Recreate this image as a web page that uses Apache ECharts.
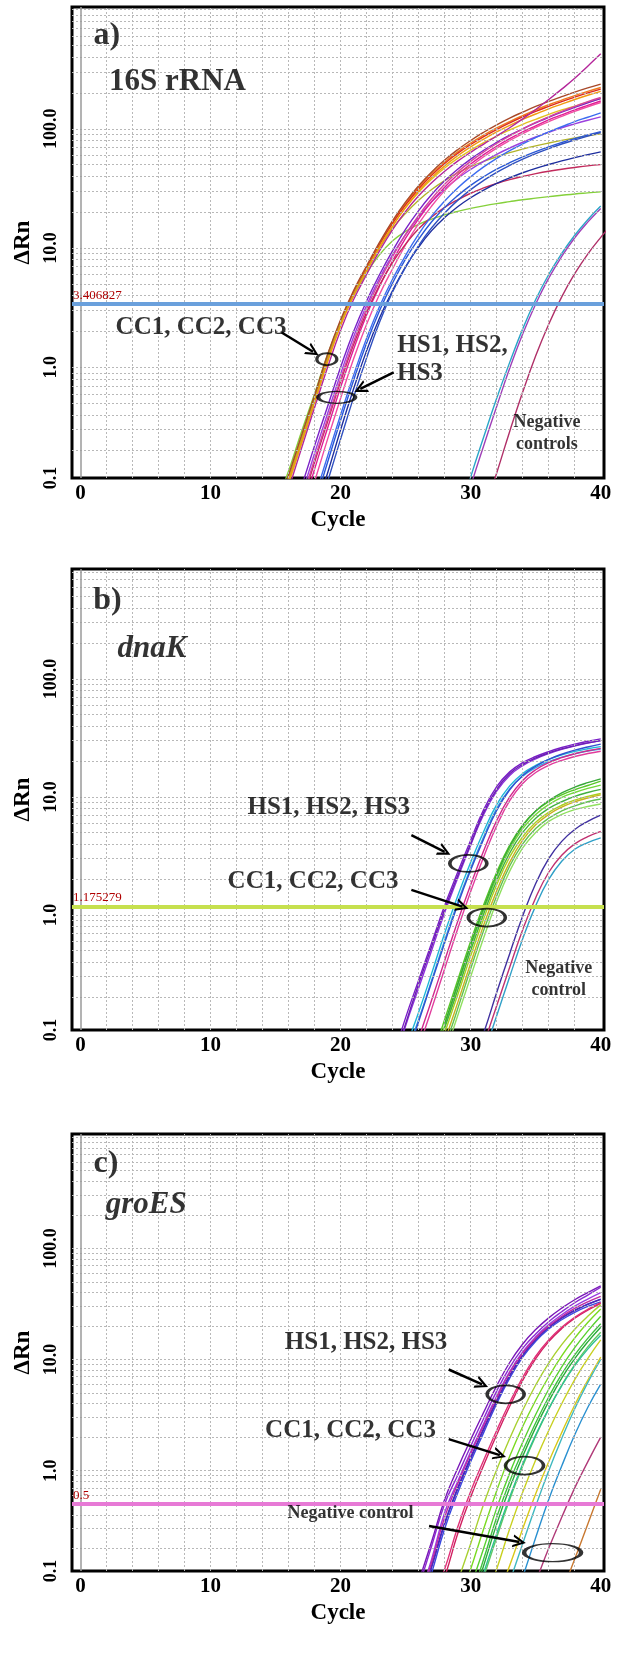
<!DOCTYPE html>
<html><head><meta charset="utf-8"><title>qPCR amplification plots</title>
<script src="https://cdn.jsdelivr.net/npm/echarts@6.0.0/dist/echarts.min.js"></script>
<style>html,body{margin:0;padding:0;background:#fff;}#chart{width:618px;height:1660px;}</style>
</head><body><div id="chart"></div>
<script>
// ---------------- data ----------------
const xTickValues = [0, 10, 20, 30, 40];
const yTickLabels = ['0.1', '1.0', '10.0', '100.0'];
const xGridCycles = [2,4,6,8,10,12,14,16,18,20,22,24,26,28,30,32,34,36,38];
const yGridValues = [0.2,0.3,0.4,0.5,0.6,0.7,0.8,0.9,1,2,3,4,5,6,7,8,9,10,20,30,40,50,60,70,80,90,100,200,300,400,500,600,700,800,900,1000];

const thresholdA = 3.406827;
const thresholdB = 1.175279;
const thresholdC = 0.5;

// Panel a) 16S rRNA : first cycle of each curve, then ΔRn per cycle
const aStarts = [15,15,15,15,15,15,16,16,17,17,17,18,17,18,18,18,19,17,29,29,31];
const aCurves = [
  [0.058,0.12,0.26,0.56,1.25,2.45,4.3,6.9,10.9,16.6,23.7,32.3,42.1,52.7,64.1,76,88.5,101.6,115,129,144,159,174,190,206,222],
  [0.052,0.11,0.24,0.53,1.18,2.35,4.15,6.7,10.6,16.1,23,31.3,40.8,51.2,62.2,73.8,85.9,98.6,112,126,140,154,169,184,200,215],
  [0.05,0.105,0.23,0.5,1.12,2.25,4.0,6.5,10.3,15.4,21.8,29.4,37.8,46.9,56.4,66.2,76.4,86.9,97.7,109,120,132,144,155,167,179],
  [0.07,0.135,0.29,0.6,1.28,2.4,4.0,6.2,8.8,11.5,13.8,15.8,17.5,19,20.3,21.5,22.6,23.6,24.5,25.4,26.2,27,27.7,28.4,29,29.6],
  [0.055,0.115,0.25,0.54,1.2,2.35,4.1,6.5,10.1,14.6,19.6,25.2,31,36.8,42.6,48.1,53.3,58.3,63.1,67.6,71.9,76,80,83.8,87.3,90.6],
  [0.06,0.125,0.27,0.58,1.28,2.5,4.4,7.1,11.2,17,24.4,33.3,43.5,54.7,66.8,79.8,93.5,108,123,138,154,170,186,203,220,237],
  [0.11,0.235,0.51,1.12,2.25,4.0,6.4,10.1,15.3,21.9,29.9,39,48.9,59.4,70.5,82,94.2,107,120,133,147,161,176,191,206],
  [0.095,0.21,0.46,1.0,2.05,3.7,6.0,9.5,14.3,20.3,27.4,35.3,44,53.5,63.5,74.5,87,102,121,145,176,215,265,335,425],
  [0.1,0.22,0.47,1.0,2.0,3.6,6.0,9.5,14.4,20.6,28.1,36.6,45.8,55.7,66.1,76.9,88.3,100,112,125,138,151,165,179],
  [0.085,0.19,0.41,0.88,1.8,3.3,5.6,8.8,13,18.3,24.4,31.1,38.3,45.7,53.3,61.1,69,77.1,85.3,93.5,102,110,118,126],
  [0.06,0.14,0.31,0.68,1.42,2.75,4.8,7.8,12.1,17.6,24.5,32.4,41.2,50.7,60.8,71.4,82.6,94.2,106,119,131,144,157,171],
  [0.11,0.25,0.55,1.18,2.3,4.1,6.7,10.7,16,22.5,30.3,38.9,48.3,58.3,68.9,79.8,91.2,103,115,127,140,153,166],
  [0.07,0.16,0.35,0.76,1.55,2.9,4.9,7.6,10.8,14.5,18.2,21.9,25.4,28.8,31.9,34.8,37.5,39.9,42.1,44.1,45.8,47.4,48.9,50.1],
  [0.07,0.16,0.36,0.78,1.6,3.0,5.1,8.1,11.9,16.6,21.9,27.5,33.5,39.6,45.8,52,58.2,64.4,70.6,76.7,82.8,88.7,94.6],
  [0.06,0.13,0.3,0.66,1.38,2.6,4.4,7,10.2,14,18,22.2,26.4,30.6,34.8,38.8,42.8,46.6,50.2,53.8,57.3,60.7,64],
  [0.08,0.18,0.4,0.86,1.75,3.25,5.5,8.7,13.1,18.5,24.8,31.9,39.6,47.9,56.5,65.5,74.8,84.5,94.4,104,115,125,136],
  [0.11,0.25,0.56,1.2,2.4,4.3,6.9,10.5,14.8,19.7,25.1,30.9,36.9,43.1,49.3,55.6,61.9,68.2,74.5,80.7,86.9,93.1],
  [0.075,0.17,0.37,0.8,1.65,3.1,5.3,8.5,13,18.8,25.9,34.2,43.4,53.3,64,75.3,87.3,99.8,113,126,140,154,169,183],
  [0.05,0.12,0.26,0.55,1.1,2.1,3.7,6.0,9.0,12.8,17.3,22.5],
  [0.04,0.1,0.22,0.47,0.98,1.9,3.4,5.6,8.5,12.2,16.5,21.5],
  [0.06,0.13,0.29,0.62,1.25,2.3,3.9,6.1,8.9,12.3,16.5]
];
const aColors = ['#ee7d1e','#dc2a1e','#e3c020','#84d03a','#b2b42a','#a84a2a','#f09a10','#b4269a','#7a22c6','#9c40de','#e01c96','#f04ca2','#c22a5c','#2a58d6','#1e2e9e','#3d6cf0','#3050c0','#d4449e','#2aa6c8','#a040b8','#b03068'];

// Panel b) dnaK
const bStarts = [24,24,25,25,26,26,25,24,27,27,28,28,28,28,28,28,30,31,31];
const bCurves = [
  [0.06,0.135,0.28,0.58,1.2,2.3,4.3,7.8,12.2,16.3,19.5,22,24.2,26.2,28,29.6,31],
  [0.05,0.115,0.24,0.5,1.05,2.05,3.9,7.1,11.2,15.2,18.4,21,23.3,25.3,27,28.6,30],
  [0.075,0.15,0.32,0.7,1.45,2.8,5.1,8.6,12.4,15.8,18.5,20.8,22.7,24.3,25.6,26.7],
  [0.065,0.13,0.28,0.61,1.28,2.5,4.6,8.0,11.7,15,17.7,19.9,21.7,23.2,24.5,25.5],
  [0.09,0.19,0.41,0.88,1.8,3.5,6.3,10,13.8,17,19.5,21.5,23.2,24.6,25.8],
  [0.075,0.16,0.35,0.76,1.58,3.1,5.7,9.3,13,16.1,18.5,20.4,22,23.3,24.4],
  [0.06,0.125,0.27,0.58,1.22,2.4,4.4,7.7,11.5,15.2,18.2,20.8,23,24.9,26.5,28],
  [0.052,0.12,0.26,0.54,1.12,2.15,4.0,7.4,11.6,15.7,18.9,21.4,23.6,25.5,27.2,28.7,30],
  [0.06,0.13,0.28,0.6,1.22,2.3,3.9,5.8,7.6,9.1,10.4,11.5,12.5,13.6],
  [0.055,0.115,0.25,0.54,1.1,2.1,3.6,5.4,7.1,8.6,9.9,10.9,11.8,12.6],
  [0.11,0.23,0.5,1.02,1.95,3.35,5.0,6.6,8.0,9.1,10.1,10.9,11.6],
  [0.1,0.21,0.45,0.93,1.8,3.1,4.6,6.1,7.4,8.5,9.4,10.1,10.7],
  [0.085,0.18,0.39,0.82,1.6,2.8,4.3,5.8,7.1,8.2,9.1,9.8,10.4],
  [0.075,0.16,0.35,0.74,1.45,2.6,4.0,5.4,6.6,7.6,8.4,9.1,9.6],
  [0.065,0.14,0.3,0.64,1.3,2.35,3.7,5.0,6.2,7.1,7.8,8.3,8.7],
  [0.12,0.26,0.56,1.15,2.2,3.8,5.7,7.6,9.3,10.8,12.1,13.2,14.2],
  [0.05,0.1,0.22,0.47,0.98,1.85,3.0,4.2,5.3,6.2,7.0],
  [0.08,0.17,0.36,0.75,1.4,2.3,3.2,4.0,4.6,5.1],
  [0.065,0.14,0.3,0.63,1.2,2.0,2.85,3.6,4.1,4.5]
];
const bColors = ['#7a1ec8','#8f30dc','#1eb6d8','#3aa6e0','#d0288c','#e03c9c','#3050d0','#6a20b0','#58c828','#70d838','#40b040','#a8d020','#c8b020','#60c050','#90e060','#38a838','#4030a0','#c03070','#30a0c8'];

// Panel c) groES
const cStarts = [26,26,26,26,26,27,27,26,26,30,30,30,29,29,30,30,32,31,32,33,34,37];
const cCurves = [
  [0.089,0.21,0.5,0.91,1.66,2.95,5.2,8.5,12.6,17,21.9,26.9,32.4,38,44.7],
  [0.07,0.16,0.42,0.8,1.48,2.65,4.7,7.8,11.7,16,20.6,25.3,30.2,35,40],
  [0.055,0.14,0.34,0.7,1.32,2.4,4.3,7.2,11,15.2,19.6,23.8,27.8,31.5,35],
  [0.05,0.12,0.3,0.63,1.2,2.2,4.0,6.8,10.5,14.6,18.8,22.8,26.6,30,33],
  [0.06,0.135,0.33,0.68,1.28,2.35,4.2,7.1,10.9,15.1,19.4,23.6,27.6,31.3,34.8],
  [0.055,0.11,0.27,0.58,1.12,2.1,3.8,6.5,10.2,14.5,19,23.5,27.8,32],
  [0.065,0.13,0.31,0.65,1.24,2.3,4.1,6.9,10.7,15,19.5,24,28.3,32.5],
  [0.065,0.15,0.38,0.76,1.42,2.55,4.5,7.6,11.4,15.6,20,24.4,28.8,33,37],
  [0.1,0.23,0.55,1.05,1.9,3.35,5.8,9.4,13.8,18.6,23.7,29,34.5,40,46],
  [0.07,0.16,0.38,0.8,1.5,2.7,4.6,7.4,11,15.5,21],
  [0.09,0.2,0.46,0.95,1.8,3.2,5.4,8.6,12.8,18,24.5],
  [0.06,0.14,0.33,0.7,1.35,2.45,4.2,6.8,10.2,14.4,19.5],
  [0.06,0.13,0.3,0.66,1.35,2.5,4.3,7.0,10.8,15.6,21.5,28.5],
  [0.1,0.22,0.5,1.02,1.95,3.5,5.9,9.3,13.6,18.7,24.5,31],
  [0.05,0.11,0.25,0.55,1.1,2.05,3.6,5.9,9.0,13,17.6],
  [0.05,0.12,0.27,0.58,1.15,2.1,3.6,5.8,8.8,12.4,16.5],
  [0.07,0.14,0.3,0.62,1.2,2.2,3.9,6.5,10.5],
  [0.06,0.13,0.3,0.64,1.25,2.3,4.0,6.6,10.2,15],
  [0.045,0.1,0.22,0.48,1.0,1.95,3.6,6.2,10],
  [0.05,0.11,0.25,0.55,1.1,2.1,3.7,6.0],
  [0.05,0.1,0.2,0.38,0.7,1.2,2.0],
  [0.08,0.16,0.33,0.68]
];
const cColors = ['#8a2ad0','#9a3ee0','#2030d0','#3a4ae0','#5028b8','#d02060','#e03078','#c02aa0','#7a18b8','#40c040','#58d030','#2aaa3a','#7ada20','#a8d030','#60c860','#30c090','#d8c818','#c8d020','#40b8c0','#2a90d0','#b03a78','#c87830'];

// annotations: [cycle, ΔRn, text]
const aTexts = [[2.02,600,'a)'],[7.46,245,'16S rRNA'],[9.27,2.16,'CC1, CC2, CC3'],[28.6,1.51,'HS1, HS2,'],[26.1,0.88,'HS3'],[35.86,0.28,'Negative\ncontrols']];
const bTexts = [[2.08,458,'b)'],[5.5,178,'dnaK'],[19.09,8.2,'HS1, HS2, HS3'],[17.88,1.91,'CC1, CC2, CC3'],[36.77,0.282,'Negative\ncontrol']];
const cTexts = [[1.96,575,'c)'],[5.05,245,'groES'],[21.96,14.1,'HS1, HS2, HS3'],[20.76,2.28,'CC1, CC2, CC3'],[20.76,0.41,'Negative control']];
// ellipses: [cycle, ΔRn]
const aRings = [[18.94,1.17],[19.7,0.56]];
const bRings = [[29.82,2.73],[31.24,0.95]];
const cRings = [[32.69,4.86],[34.14,1.11],[36.3,0.183]];
// arrows: [fromCycle, fromΔRn, toCycle, toΔRn]
const aArrows = [[15.47,1.96,17.88,1.35],[24.08,0.908,21.51,0.658]];
const bArrows = [[25.44,4.74,28.0,3.43],[25.44,1.63,29.37,1.175]];
const cArrows = [[28.31,8.13,30.88,5.97],[28.31,1.92,32.24,1.38],[26.8,0.317,33.75,0.228]];

// ---------------- layout / style ----------------
const FONT = '"Liberation Serif", "Times New Roman", serif';
const layout = [
  {top: 7,    height: 471, yMin: 0.118, yMax: 1050, thr: thresholdA, thrLabel: '3.406827', thrColor: '#6aa0dc',
   texts: aTexts, rings: aRings, ringSizes: [[20,12],[37,12]], arrows: aArrows,
   starts: aStarts, curves: aCurves, colors: aColors},
  {top: 569,  height: 461, yMin: 0.106, yMax: 853,  thr: thresholdB, thrLabel: '1.175279', thrColor: '#c6e04e',
   texts: bTexts, rings: bRings, ringSizes: [[37,17],[37,18]], arrows: bArrows,
   starts: bStarts, curves: bCurves, colors: bColors},
  {top: 1134, height: 437, yMin: 0.125, yMax: 1070, thr: thresholdC, thrLabel: '0.5', thrColor: '#e77ad6',
   texts: cTexts, rings: cRings, ringSizes: [[37,18],[38,18],[57,18]], arrows: cArrows,
   starts: cStarts, curves: cCurves, colors: cColors}
];
const textStyleFor = (t, k) => {
  if (k === 0) return {fontSize: 32};
  if (k === 1) return {fontSize: 31, fontStyle: (t === '16S rRNA') ? 'normal' : 'italic'};
  if (t.indexOf('Negative') === 0) return {fontSize: 18, lineHeight: 22};
  return {fontSize: 25};
};
const chevron = 'path://M0,10 L5,0 L10,10 L8.2,10 L5,3.6 L1.8,10 Z';

const grids = [], xAxes = [], yAxes = [], series = [];
layout.forEach((L, p) => {
  grids.push({left: 72, width: 532, top: L.top, height: L.height, show: true,
    borderColor: '#000', borderWidth: 3, backgroundColor: '#fff'});
  xAxes.push({gridIndex: p, type: 'value', min: -0.65, max: 40.25,
    axisLine: {show: false}, axisTick: {show: false}, splitLine: {show: false},
    axisLabel: {customValues: xTickValues, fontFamily: FONT, fontWeight: 'bold', fontSize: 21, color: '#000', margin: 5},
    name: 'Cycle', nameLocation: 'middle', nameGap: 31,
    nameTextStyle: {fontFamily: FONT, fontWeight: 'bold', fontSize: 23, color: '#000'}});
  const yMin = L.yMin;
  yAxes.push({gridIndex: p, type: 'log', logBase: 10, min: yMin, max: L.yMax,
    axisLine: {show: false}, axisTick: {show: false}, splitLine: {show: false},
    axisLabel: {customValues: [yMin, 1, 10, 100], rotate: 90, fontFamily: FONT, fontWeight: 'bold',
      fontSize: 18, color: '#000', margin: 12,
      formatter: v => { if (v <= yMin * 1.01) return yTickLabels[0];
        const k = Math.round(Math.log10(v)); return yTickLabels[k + 1] || ''; }},
    name: 'ΔRn', nameLocation: 'middle', nameGap: 36, nameRotate: 90,
    nameTextStyle: {fontFamily: FONT, fontWeight: 'bold', fontSize: 23, color: '#000'}});

  // grid lines
  const gl = [];
  xGridCycles.forEach(c => gl.push({xAxis: c}));
  yGridValues.filter(v => v > yMin && v < L.yMax).forEach(v => gl.push({yAxis: v}));
  gl.push({xAxis: 0, lineStyle: {type: 'solid', color: '#9a9a9a', width: 1.5}});
  series.push({type: 'line', xAxisIndex: p, yAxisIndex: p, data: [[40, L.yMax]], showSymbol: false,
    lineStyle: {opacity: 0}, silent: true, z: 1,
    markLine: {silent: true, symbol: 'none', animation: false, label: {show: false},
      lineStyle: {type: [2, 2], color: '#b8b8b8', width: 1}, data: gl}});

  // amplification curves
  L.curves.forEach((vals, k) => {
    series.push({type: 'line', xAxisIndex: p, yAxisIndex: p,
      data: vals.map((v, i) => [L.starts[k] + i, v]),
      showSymbol: false, symbol: 'none', smooth: 0.45, clip: true, silent: true, z: 3,
      lineStyle: {width: 1.4, color: L.colors[k]}});
  });

  // threshold
  series.push({type: 'line', xAxisIndex: p, yAxisIndex: p, data: [[40, L.yMax]], showSymbol: false,
    lineStyle: {opacity: 0}, silent: true, z: 4,
    markLine: {silent: true, symbol: 'none', animation: false,
      lineStyle: {type: 'solid', color: L.thrColor, width: 4},
      label: {show: true, position: 'insideStartTop', formatter: L.thrLabel, color: '#b00000',
        fontFamily: FONT, fontSize: 13, distance: [1, 2]},
      data: [{yAxis: L.thr}]}});

  // annotations
  const annData = [];
  L.texts.forEach((t, k) => annData.push({value: [t[0], t[1]], symbolSize: 0,
    itemStyle: {color: 'rgba(0,0,0,0)'},
    label: Object.assign({show: true, position: 'inside', formatter: t[2], color: '#000',
      fontFamily: FONT, fontWeight: 'bold'}, textStyleFor(t[2], k))}));
  L.rings.forEach((r, k) => annData.push({value: [r[0], r[1]], symbol: 'circle', symbolSize: L.ringSizes[k],
    itemStyle: {color: 'rgba(0,0,0,0)', borderColor: '#000', borderWidth: 2.5}, label: {show: false}}));
  series.push({type: 'scatter', xAxisIndex: p, yAxisIndex: p, data: annData, silent: true, z: 6,
    markLine: {silent: true, animation: false, symbol: ['none', chevron], symbolSize: [13, 13],
      label: {show: false}, itemStyle: {color: '#000'},
      lineStyle: {type: 'solid', color: '#000', width: 2.5},
      data: L.arrows.map(a => [{coord: [a[0], a[1]]}, {coord: [a[2], a[3]]}])}});
});

const chart = echarts.init(document.getElementById('chart'), null, {renderer: 'canvas'});
chart.setOption({animation: false, backgroundColor: '#fff', grid: grids, xAxis: xAxes, yAxis: yAxes, series: series});
</script></body></html>
